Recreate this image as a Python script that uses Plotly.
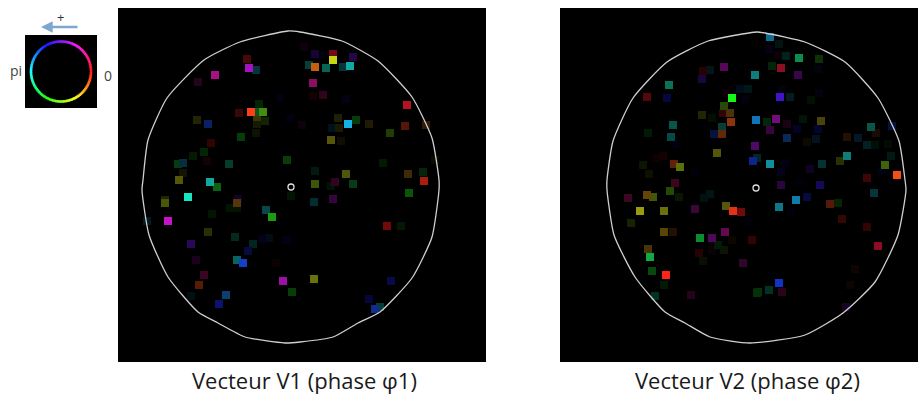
import colorsys
import math
import plotly.graph_objects as go

W, H = 918, 396

# Vector V1 : sampled cells (position on the detector, hue of phase, amplitude)
v1_x = [247,249,256,215,198,239,251,258,263,259,257,265,257,256,280,290,197,208,241,211,193,204,207,178,183,229,287,183,179,210,217,188,238,165,
        165,237,230,237,212,266,272,147,168,208,235,253,262,269,287,191,248,196,237,243,276,204,199,191,226,219,283,292,291,
        304,315,322,333,333,353,309,315,326,343,350,313,313,323,346,407,302,338,348,356,332,339,369,405,426,390,331,341,383,315,346,408,423,315,331,335,353,424,409,314,333,435,
        387,401,314,391,369,375,380]
v1_y = [59,68,70,75,82,113,112,112,112,104,117,121,124,133,98,118,120,124,137,143,156,152,161,164,163,164,160,173,180,182,187,197,199,200,
        203,203,208,208,214,210,217,221,221,232,237,244,239,238,240,244,251,260,260,263,263,275,285,296,295,304,281,292,196,
        47,54,55,54,60,57,65,67,68,67,66,83,96,95,99,105,125,118,124,120,128,128,124,126,125,133,140,141,163,171,174,174,172,184,186,182,184,181,193,202,199,160,
        226,226,279,281,299,309,307]
v1_hue = [0,290,190,315,320,0,10,140,95,120,50,100,70,90,240,240,70,225,120,0,110,120,0,130,195,160,125,60,60,175,125,170,270,70,
          70,35,120,120,120,180,115,200,300,70,160,170,240,190,240,265,235,300,180,225,0,325,15,180,210,235,295,125,120,
          300,265,240,350,65,265,180,25,170,190,178,320,0,330,240,355,300,60,195,125,200,60,50,10,30,90,60,50,120,160,65,40,130,80,120,320,140,5,120,185,290,30,
          0,120,65,235,240,225,170]
v1_amp = [.35,.78,.3,.7,.2,.3,1,.4,.6,.2,.3,.2,.15,.12,.1,.1,.2,.45,.3,.25,.15,.2,.12,.3,.3,.3,.3,.12,.4,.7,.45,.9,.2,.2,
          .4,.4,.12,.12,.12,.35,.65,.2,.8,.25,.22,.2,.15,.1,.12,.4,.3,.15,.45,.8,.08,.28,.4,.1,.5,.5,.7,.3,.12,
          .1,.25,.1,.5,.85,.35,.3,.8,.45,.3,.7,.6,.12,.25,.12,.75,.1,.17,.9,.3,.15,.15,.17,.4,.25,.3,.4,.1,.15,.15,.4,.3,.2,.4,.12,.25,.3,.7,.4,.25,.3,.1,
          .5,.15,.5,.35,.3,.6,.3]

# Vector V2
v2_x = [703,710,724,755,702,669,647,667,726,732,740,748,745,724,723,730,731,756,702,712,673,722,648,671,714,722,677,755,717,663,657,753,757,643,674,680,649,695,675,670,647,653,628,710,704,679,
        770,779,769,778,786,799,819,772,781,798,818,782,780,790,819,811,767,776,787,803,821,770,797,818,787,816,847,858,871,876,892,867,875,888,807,847,840,822,891,770,785,781,810,885,882,897,781,800,820,867,874,796,807,
        640,664,695,726,733,741,747,631,664,673,700,712,725,752,732,718,724,712,699,648,703,650,743,652,666,664,757,655,691,
        779,830,838,842,867,878,791,855,850,779,758,769,782,846]
v2_y = [71,70,67,75,79,85,97,98,93,98,89,89,99,106,113,113,122,120,115,118,125,127,133,137,134,134,144,146,153,156,158,161,158,165,164,167,174,173,183,191,195,197,198,194,198,197,
        37,44,49,55,56,58,59,66,68,75,69,90,97,97,93,100,122,119,124,119,121,130,129,129,138,139,137,138,127,133,126,145,145,144,142,156,161,164,156,164,163,172,169,165,171,175,185,182,185,178,193,200,197,
        211,211,209,206,211,212,222,223,232,232,238,238,232,240,240,245,250,250,253,249,261,257,263,271,275,285,293,296,295,
        207,204,203,219,227,246,212,269,285,283,292,290,292,307]
v2_hue = [0,190,300,180,260,165,0,240,330,120,215,180,240,90,355,40,18,205,65,120,170,175,125,175,225,20,240,285,60,0,0,230,180,80,15,75,70,240,340,95,40,75,330,180,180,100,
          195,170,250,330,170,150,110,130,350,285,230,250,255,190,250,120,130,295,320,140,55,295,240,240,215,210,20,205,170,25,225,190,130,120,60,175,75,180,165,185,240,245,265,85,240,15,280,240,250,0,190,198,235,
          60,65,310,60,8,0,240,80,48,25,135,295,315,0,30,140,80,330,0,40,90,140,310,125,3,125,125,165,320,
          190,12,115,5,0,350,240,25,25,230,125,165,325,280]
v2_amp = [.2,.15,.4,.55,.3,.5,.4,.3,.1,.95,.15,.13,.1,.35,.25,.35,.6,.75,.2,.1,.4,.3,.15,.35,.3,.45,.1,.45,.4,.12,.1,.6,.2,.12,.45,.5,.1,.07,.3,.35,.45,.4,.3,.12,.1,.13,
          .6,.12,.12,.08,.18,.6,.25,.2,.6,.35,.1,.1,.8,.18,.1,.1,.2,.55,.15,.12,.35,.3,.2,.25,.4,.18,.2,.2,.4,.15,.3,.2,.1,.08,.07,.55,.25,.25,.14,.65,.1,.15,.18,.45,.12,.95,.3,.08,.4,.3,.3,.7,.3,
          .65,.5,.3,.4,.9,.5,.08,.18,.4,.2,.6,.4,.45,.25,.08,.15,.12,.08,.2,.35,.1,.7,.25,.35,1,.15,.25,.25,.2,
          .6,.4,.2,.25,.25,.6,.07,.08,.08,.8,.25,.25,.22,.2]

# Field of view outlines
v1_edge_x = [288,300,342,378,412,432,439,439,432,412,380,358,333,300,285,245,218,198,168,149,142,143,148,167,204,240,288]
v1_edge_y = [31,32,41,61,97,138,180,190,237,278,312,323,337,342,343,337,323,312,277,235,190,180,140,98,60,42,31]
v2_edge_x = [757,765,805,845,878,899,905,906,898,875,843,805,750,710,685,665,635,614,607,607,613,633,667,708,757]
v2_edge_y = [32,33,42,62,98,141,180,190,235,282,313,335,343,337,323,312,277,235,190,180,141,98,62,41,32]
v1_centre = (291, 187)
v2_centre = (756, 188)

# Phase colour key
key_phase = list(range(0, 360, 3))

labels = ["Vecteur V1 (phase φ1)", "Vecteur V2 (phase φ2)"]


def cell_colour(hue, amp):
    r, g, b = colorsys.hsv_to_rgb((hue % 360) / 360, 0.9, min(amp ** 1.2 * 1.02, 1))
    return f"rgb({int(r * 255)},{int(g * 255)},{int(b * 255)})"


def dom_x(a, b):
    return [a / W, b / W]


def dom_y(top, bottom):
    return [1 - bottom / H, 1 - top / H]


fig = go.Figure()


def add_panel(xs, ys, hues, amps, ex, ey, centre, xa, ya):
    order = sorted(range(len(xs)), key=lambda i: amps[i])
    fig.add_trace(go.Scatter(
        x=[xs[i] for i in order], y=[ys[i] for i in order], xaxis=xa, yaxis=ya, mode="markers",
        marker=dict(symbol="square", size=8, line=dict(width=0),
                    color=[cell_colour(hues[i], amps[i]) for i in order]),
        hoverinfo="skip"))
    fig.add_trace(go.Scatter(x=ex, y=ey, xaxis=xa, yaxis=ya, mode="lines",
                             line=dict(color="#cfcfcf", width=1.3, shape="spline", smoothing=0.55),
                             hoverinfo="skip"))
    fig.add_trace(go.Scatter(x=[centre[0]], y=[centre[1]], xaxis=xa, yaxis=ya, mode="markers",
                             marker=dict(symbol="circle-open", size=6, color="#e0e0e0", line=dict(width=1.3)),
                             hoverinfo="skip"))


add_panel(v1_x, v1_y, v1_hue, v1_amp, v1_edge_x, v1_edge_y, v1_centre, "x", "y")
add_panel(v2_x, v2_y, v2_hue, v2_amp, v2_edge_x, v2_edge_y, v2_centre, "x2", "y2")

fig.add_trace(go.Scatter(
    x=[math.cos(math.radians(p)) for p in key_phase],
    y=[math.sin(math.radians(p)) for p in key_phase],
    xaxis="x3", yaxis="y3", mode="markers",
    marker=dict(symbol="square", size=2.5, line=dict(width=0),
                color=[cell_colour(-p, 1.0) for p in key_phase]),
    hoverinfo="skip"))

hidden = dict(showgrid=False, zeroline=False, showticklabels=False, ticks="", showline=False, fixedrange=True)


def note(x, y, text, size, colour):
    return dict(x=x / W, y=1 - y / H, xref="paper", yref="paper", text=text, showarrow=False,
                xanchor="center", yanchor="middle",
                font=dict(family="Open Sans", size=size, color=colour))


fig.update_layout(
    width=W, height=H, margin=dict(l=0, r=0, t=0, b=0, pad=0),
    paper_bgcolor="white", plot_bgcolor="black", showlegend=False,
    xaxis=dict(domain=dom_x(118, 486), range=[118, 486], **hidden),
    yaxis=dict(domain=dom_y(8, 362), range=[362, 8], **hidden),
    xaxis2=dict(domain=dom_x(560, 918), range=[560, 918], **hidden),
    yaxis2=dict(domain=dom_y(8, 362), range=[362, 8], **hidden),
    xaxis3=dict(domain=dom_x(25, 97), range=[-1.2, 1.2], **hidden),
    yaxis3=dict(domain=dom_y(35, 108), range=[-1.2167, 1.2167], **hidden),
    annotations=[
        note(304, 380, labels[0], 22, "#1a1a1a"),
        note(747, 380, labels[1], 22, "#1a1a1a"),
        note(60, 17, "+", 13, "#333333"),
        note(16, 70, "pi", 14, "#444444"),
        note(108, 75, "0", 14, "#444444"),
        dict(x=41 / W, y=1 - 27 / H, xref="paper", yref="paper", ax=38, ay=0,
             axref="pixel", ayref="pixel", text="", showarrow=True,
             arrowhead=2, arrowsize=0.9, arrowwidth=2.6, arrowcolor="#7fa6cf"),
    ],
)

fig.write_html("out.html", config={"displayModeBar": False},
               post_script="document.body.style.margin='0';document.body.style.overflow='hidden';")
